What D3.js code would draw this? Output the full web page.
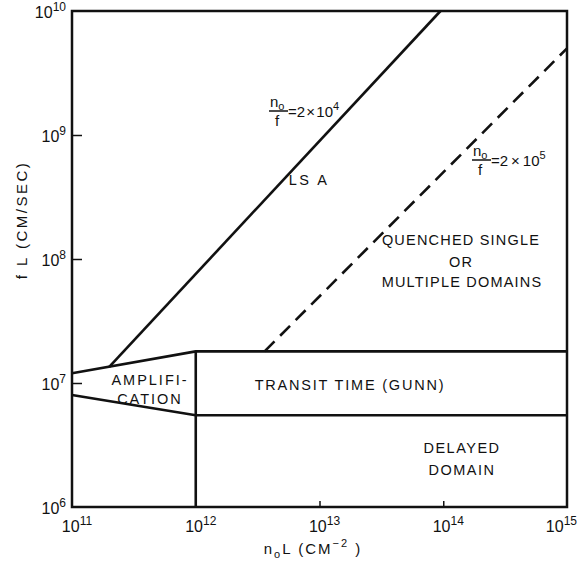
<!DOCTYPE html>
<html>
<head>
<meta charset="utf-8">
<script src="https://cdn.jsdelivr.net/npm/d3@7"></script>
<style>
  html, body { margin: 0; padding: 0; background: #fff; }
  svg { display: block; }
  text { font-family: "Liberation Sans", Arial, sans-serif; fill: #111; }
</style>
</head>
<body>
<svg id="chart" width="578" height="567"></svg>
<script>
// Axis ticks (log decades)
const xTicks = [1e11, 1e12, 1e13, 1e14, 1e15];
const xExponents = ["11", "12", "13", "14", "15"];
const yTicks = [1e6, 1e7, 1e8, 1e9, 1e10];
const yExponents = ["6", "7", "8", "9", "10"];

// Region boundaries as [n0L, fL] points
const upperBoundary = [[1e11, 1.2e7], [1e12, 1.8e7], [1e15, 1.8e7]];
const lowerBoundary = [[1e11, 8e6], [1e12, 5.5e6], [1e15, 5.5e6]];
const verticalBoundary = [[1e12, 1.8e7], [1e12, 1e6]];
// n0/f = 2x10^4 (LSA limit) and n0/f = 2x10^5 (domain quenching limit)
const lsaLine = [[2e11, 1.35e7], [9.5e13, 1e10]];
const quenchLine = [[3.6e12, 1.8e7], [1e15, 5e9]];

const svg = d3.select("#chart");
const plotLeft = 72, plotRight = 567, plotTop = 11, plotBottom = 507;

const x = d3.scaleLog().domain([1e11, 1e15]).range([plotLeft, plotRight]);
const y = d3.scaleLog().domain([1e6, 1e10]).range([plotBottom, plotTop]);

const line = d3.line().x(d => x(d[0])).y(d => y(d[1]));

// Inner tick marks
svg.append("g")
  .attr("transform", `translate(0,${plotBottom})`)
  .call(d3.axisBottom(x).tickValues(xTicks.slice(1, -1)).tickSizeInner(-6).tickSizeOuter(0).tickFormat(""))
  .call(g => g.select(".domain").remove())
  .call(g => g.selectAll("line").attr("stroke", "#111").attr("stroke-width", 1.5));

svg.append("g")
  .attr("transform", `translate(${plotLeft},0)`)
  .call(d3.axisLeft(y).tickValues(yTicks.slice(1, -1)).tickSizeInner(-10).tickSizeOuter(0).tickFormat(""))
  .call(g => g.select(".domain").remove())
  .call(g => g.selectAll("line").attr("stroke", "#111").attr("stroke-width", 1.5));

// Frame
svg.append("rect")
  .attr("x", plotLeft).attr("y", plotTop)
  .attr("width", plotRight - plotLeft).attr("height", plotBottom - plotTop)
  .attr("fill", "none").attr("stroke", "#111").attr("stroke-width", 2.5);

// Boundaries
const strokeLine = (data, dash) => svg.append("path")
  .datum(data)
  .attr("d", line)
  .attr("fill", "none")
  .attr("stroke", "#111")
  .attr("stroke-width", 2.6)
  .attr("stroke-linejoin", "round")
  .attr("stroke-dasharray", dash || null);

strokeLine(upperBoundary);
strokeLine(lowerBoundary);
strokeLine(verticalBoundary);
strokeLine(lsaLine);
strokeLine(quenchLine, "14 8");

// Tick labels with superscript exponents
function powerLabel(g, xp, yp, exp, anchor) {
  const t = g.append("text")
    .attr("x", xp).attr("y", yp)
    .attr("text-anchor", anchor)
    .attr("font-size", 16);
  t.append("tspan").text("10");
  t.append("tspan").attr("dy", -7).attr("font-size", 12).text(exp);
  return t;
}

const labels = svg.append("g");
xTicks.forEach((v, i) => {
  const last = i === xTicks.length - 1;
  powerLabel(labels, last ? x(v) + 10 : x(v) + 5, 532, xExponents[i], last ? "end" : "middle");
});
yTicks.forEach((v, i) => {
  powerLabel(labels, plotLeft - 6, y(v) + 7, yExponents[i], "end");
});

// Axis titles
const xt = svg.append("text")
  .attr("x", 313).attr("y", 554)
  .attr("text-anchor", "middle").attr("font-size", 15)
  .attr("letter-spacing", 2);
xt.append("tspan").text("n");
xt.append("tspan").attr("dy", 4).attr("font-size", 11).text("o");
xt.append("tspan").attr("dy", -4).text("L  (CM");
xt.append("tspan").attr("dy", -7).attr("font-size", 11).text("−2");
xt.append("tspan").attr("dy", 7).text(" )");

svg.append("text")
  .attr("transform", "translate(27,220) rotate(-90)")
  .attr("text-anchor", "middle").attr("font-size", 15)
  .attr("letter-spacing", 2.5)
  .text("f L  (CM/SEC)");

// Region labels
const regionText = (tx, ty, str, ls) => svg.append("text")
  .attr("x", tx).attr("y", ty)
  .attr("text-anchor", "middle").attr("font-size", 14.5)
  .attr("letter-spacing", ls == null ? 1.2 : ls)
  .text(str);

regionText(309, 185, "LS A", 2.5);
regionText(461, 245, "QUENCHED  SINGLE");
regionText(461, 267, "OR");
regionText(462, 287, "MULTIPLE DOMAINS");
regionText(150, 385, "AMPLIFI-", 2);
regionText(150, 404, "CATION", 2);
regionText(350, 390, "TRANSIT  TIME  (GUNN)", 1.8);
regionText(462, 453, "DELAYED", 1.5);
regionText(462, 475, "DOMAIN", 1.5);

// Ratio annotations n0/f = ...
function ratioLabel(fx, fy, value, exp, gap) {
  const g = svg.append("g");
  const n = g.append("text").attr("x", fx).attr("y", fy - 4).attr("font-size", 15);
  n.append("tspan").text("n");
  n.append("tspan").attr("dy", 3).attr("font-size", 11).text("o");
  g.append("line")
    .attr("x1", fx - 1).attr("x2", fx + 18)
    .attr("y1", fy).attr("y2", fy)
    .attr("stroke", "#111").attr("stroke-width", 1.5);
  g.append("text").attr("x", fx + 5).attr("y", fy + 15).attr("font-size", 15).text("f");
  const r = g.append("text").attr("x", fx + 18).attr("y", fy + 6).attr("font-size", 15);
  r.append("tspan").text("=" + value + gap + "\u00d7" + gap + "10");
  r.append("tspan").attr("dy", -7).attr("font-size", 11).text(exp);
}
ratioLabel(270, 111, "2", "4", "\u200a");
ratioLabel(473, 160, "2", "5", "\u2009");
</script>
</body>
</html>
